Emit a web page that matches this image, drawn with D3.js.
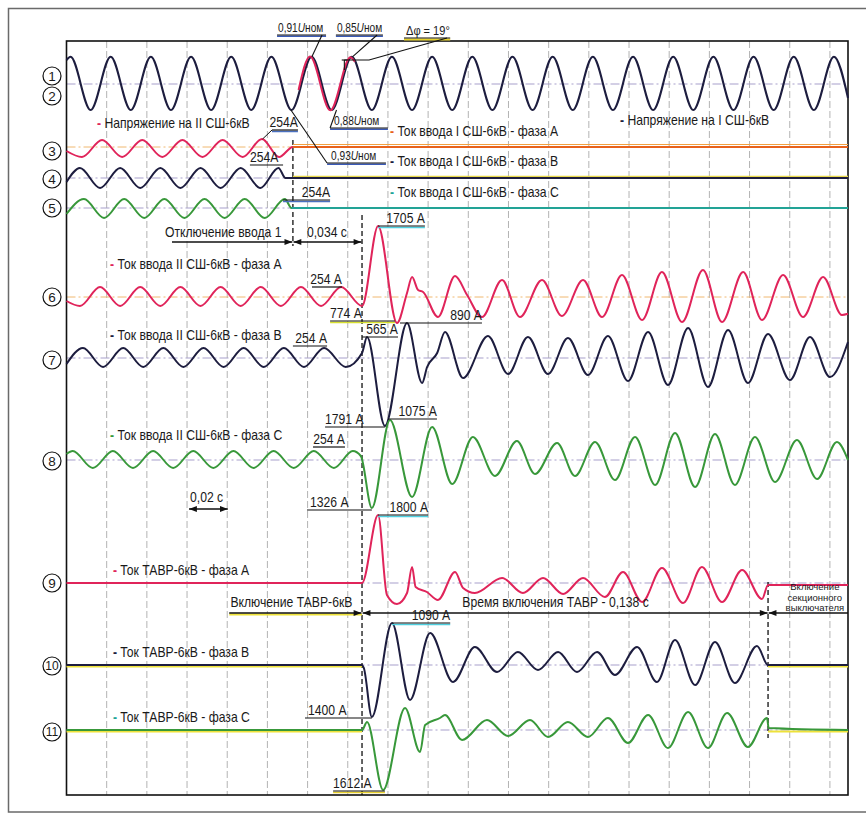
<!DOCTYPE html>
<html><head><meta charset="utf-8">
<script src="https://cdn.jsdelivr.net/npm/d3@7"></script>
<style>
body{margin:0;background:#fff}
text{font-family:"Liberation Sans",Arial,sans-serif;font-size:14.5px;fill:#1a1a1a}
</style>
</head><body>
<svg id="c" width="866" height="814"></svg>
<script>
// ---------------- DATA (time in ms, deflection in A-equivalent) ----------------
const timeDomain = [0, 389];
const gridTimes = d3.range(20, 389, 20);
const eventTimes = [112.7, 147.1, 349.2];
const traceNumbers = [1,2,3,4,5,6,7,8,9,10,11];

// 1 - Напряжение на I СШ-6кВ
const u1 = [[0,600],[2,680],[12,-650],[22,680],[32,-650],[42,680],[52,-650],[62,680],[72,-650],[82,680],[92,-650],[102,680],[112,-650],[122,680],[132,-650],[142,680],[152,-650],[162,680],[172,-650],[182,680],[192,-650],[202,680],[212,-650],[222,680],[232,-650],[242,680],[252,-650],[262,680],[272,-650],[282,680],[292,-650],[302,680],[312,-650],[322,680],[332,-650],[342,680],[352,-650],[362,680],[372,-650],[382,680],[389,-350]];
// 2 - Напряжение на II СШ-6кВ
const u2 = [[115.5,-150],[121.2,690],[131.3,-660],[141.3,670],[143.5,560]];
// 3..5 - Ток ввода I СШ-6кВ A,B,C
const inIA = [[0,-100],[7.7,-250],[17.7,175],[27.7,-250],[37.7,175],[47.7,-250],[57.7,175],[67.7,-250],[77.7,175],[87.7,-250],[97.3,200],[105.8,-250],[112.7,0],[389,0]];
const inIB = [[0,-100],[6.7,250],[16.7,-250],[26.7,250],[36.7,-250],[46.7,250],[56.7,-250],[66.7,250],[76.7,-250],[86.7,250],[96.5,-250],[105.5,250],[109,0],[389,0]];
const inIC = [[0,-150],[8.7,225],[18.7,-250],[28.7,225],[38.7,-250],[48.7,225],[58.7,-250],[68.7,225],[78.7,-250],[88.7,225],[98.7,-250],[108.7,225],[112,0],[389,0]];
// 6..8 - Ток ввода II СШ-6кВ A,B,C
const inIIA = [[0,-100],[6.7,-225],[16.7,250],[26.7,-225],[36.7,250],[46.7,-225],[56.7,250],[66.7,-225],[76.7,250],[86.7,-225],[96.7,250],[106.7,-225],[116.7,250],[126.7,-225],[136.7,250],[147.1,-225],[155.1,1775],[164.5,-650],[169.5,100],[172,500],[175,175],[177.5,125],[184.9,-500],[193.4,525],[199.4,50],[206.8,-500],[216.8,425],[225.7,-500],[236.7,425],[246.6,-475],[257.1,425],[266.6,-500],[276.5,550],[286.5,-575],[296.4,625],[306.4,-625],[316.8,675],[326.3,-625],[336.8,625],[346.2,-575],[356.7,550],[366.6,-500],[376.6,500],[386,-450],[389,-420]];
const inIIB = [[0,-150],[8.2,250],[18.2,-225],[28.2,250],[38.2,-225],[48.2,250],[58.2,-225],[68.2,250],[78.2,-225],[88.2,250],[98.2,-225],[108.2,250],[118.2,-225],[128.2,250],[139,-225],[147.1,125],[149.6,525],[158.5,-1700],[169.5,875],[177,-625],[179.5,-225],[184.5,125],[188.4,650],[197.4,-500],[209.8,550],[219.8,-400],[229.7,525],[239.7,-400],[249.6,500],[259.6,-425],[269.5,550],[279.5,-575],[289.5,650],[299.4,-675],[309.4,750],[319.3,-725],[329.3,700],[339.2,-625],[349.2,600],[360.1,-550],[370.1,525],[380,-475],[389,400]];
const inIIC = [[0,150],[3.1,225],[13.1,-200],[23.1,225],[33.1,-200],[43.1,225],[53.1,-200],[63.1,225],[73.1,-200],[83.1,225],[93.1,-200],[103.1,225],[113.1,-200],[123.1,225],[133.1,-200],[142.5,225],[146.5,100],[152,-1200],[161,1000],[172,-925],[182,825],[192,-600],[202.3,575],[213.3,-400],[224.2,475],[233.2,-350],[244.2,425],[253.1,-400],[263.1,450],[273,-500],[283,575],[293,-625],[302.9,675],[312.9,-675],[322.8,650],[332.7,-625],[342.7,575],[352.7,-550],[363.6,500],[373.6,-475],[383.5,450],[389,0]];
// 9..11 - Ток ТАВР-6кВ A,B,C
const tavrA = [[0,0],[147.1,0],[155.1,1700],[159.5,-300],[164.5,-525],[169.5,-250],[172,400],[173.8,-100],[179.4,-225],[184.9,-425],[193.4,275],[197.4,-125],[203.3,-250],[216.8,125],[227.2,-250],[237.2,125],[247.2,-275],[257.1,125],[268,-350],[277,275],[286.5,-475],[296.4,375],[306.9,-500],[316.3,400],[326.3,-475],[336.3,325],[346.2,-400],[349.2,-50],[350.5,-50],[389,-50]];
const tavrB = [[0,0],[147.1,0],[148,-75],[152,-1300],[162,1050],[171,-875],[181,800],[192.4,-425],[203.3,450],[214.3,-175],[224.7,325],[234.7,-125],[244.7,325],[254.1,-175],[264.1,325],[273,-250],[284,450],[293.9,-425],[302.9,625],[312.9,-500],[322.8,575],[332.7,-450],[343.7,475],[349.2,0],[389,0]];
const tavrC = [[0,0],[147.1,0],[149.6,200],[157.6,-1500],[168.5,550],[176,-550],[178.5,125],[185.9,300],[188.4,375],[196.9,-250],[209.3,250],[219.8,-150],[230.7,250],[239.7,-175],[249.6,200],[259.6,-175],[269.5,300],[279.5,-325],[289.5,375],[299.4,-450],[309.4,450],[319.3,-450],[328.8,425],[339.2,-425],[348.7,300],[349.5,50],[389,0]];

const seriesLabels = [
  "Напряжение на II СШ-6кВ","Напряжение на I СШ-6кВ",
  "Ток ввода I СШ-6кВ - фаза А","Ток ввода I СШ-6кВ - фаза В","Ток ввода I СШ-6кВ - фаза С",
  "Ток ввода II СШ-6кВ - фаза А","Ток ввода II СШ-6кВ - фаза В","Ток ввода II СШ-6кВ - фаза С",
  "Ток ТАВР-6кВ - фаза А","Ток ТАВР-6кВ - фаза В","Ток ТАВР-6кВ - фаза С"];
const valueLabels = ["1705 А","774 А","565 А","890 А","1791 А","1075 А","1326 А","254 А","254 А","254 А","1800 А","1090 А","1400 А","1612 А","254А","254А","254А"];
const voltLabels = ["0,91","0,85","0,88","0,93"];
const phaseShift = "Δφ = 19°";
const timeLabels = ["Отключение ввода 1","0,034 с","0,02 с","Включение ТАВР-6кВ","Время включения ТАВР - 0,138 с"];
const sectionLabel = ["Включение","секционного","выключателя"];

// ---------------- LAYOUT ----------------
const svg = d3.select('#c');
const x = d3.scaleLinear().domain(timeDomain).range([66.5, 848]);
const defl = d3.scaleLinear().domain([-1000, 1000]).range([40, -40]);
const laneY = {1:84,2:84,3:147,4:178,5:208,6:297,7:358,8:460,9:583,10:665,11:730};
const circleY = {1:76,2:96,3:151,4:179,5:208,6:297,7:360,8:461,9:583,10:666,11:732};
const Y = (lane, v) => laneY[lane] + defl(v);
const RED = "#e0245a", NAVY = "#1d1d3f", GREEN = "#38983a", TEAL = "#22a396", ORANGE = "#e8621c";

// condensed text: horizontal scale via transform
function label(px, py, k, anchor){
  return svg.append('text').attr('transform',`translate(${px},${py}) scale(${k},1)`)
    .attr('text-anchor', anchor || 'start');
}

const defs = svg.append('defs');
defs.append('marker').attr('id','arr').attr('viewBox','0 0 10 10').attr('refX',10).attr('refY',5)
  .attr('markerWidth',8).attr('markerHeight',6).attr('orient','auto-start-reverse')
  .append('path').attr('d','M0,1 L10,5 L0,9 Z').attr('fill','#111');

// outer frame
svg.append('rect').attr('x',8.5).attr('y',8.5).attr('width',900).attr('height',803.5)
  .attr('fill','none').attr('stroke','#6a6a6a').attr('stroke-width',1.5);

// grid
svg.append('g').selectAll('line').data(gridTimes).join('line')
  .attr('x1',d=>x(d)).attr('x2',d=>x(d)).attr('y1',41).attr('y2',795)
  .attr('stroke','#b3b3b3').attr('stroke-width',1).attr('stroke-dasharray','7,3');

// baselines
const baseLanes = [1,3,4,5,6,7,8,9,10,11];
svg.append('g').selectAll('line').data(baseLanes).join('line')
  .attr('x1',x(0)).attr('x2',x(389)).attr('y1',d=>Y(d,0)).attr('y2',d=>Y(d,0))
  .attr('stroke',d=> d===6||d===3 ? '#f0b870' : '#a79fcb').attr('stroke-width',1)
  .attr('stroke-dasharray','9,3,2,3');

// plot frame
svg.append('rect').attr('x',66.5).attr('y',41).attr('width',781.5).attr('height',754)
  .attr('fill','none').attr('stroke','#111').attr('stroke-width',1.6);

// event dashed lines
const evSpans = [[eventTimes[0],140,246],[eventTimes[1],215,795],[eventTimes[2],582,738]];
svg.append('g').selectAll('line').data(evSpans).join('line')
  .attr('x1',d=>x(d[0])).attr('x2',d=>x(d[0])).attr('y1',d=>d[1]).attr('y2',d=>d[2])
  .attr('stroke','#111').attr('stroke-width',1.3).attr('stroke-dasharray','5,3');

// traces
function trace(data, lane, color, w){
  const line = d3.line().x(d=>x(d[0])).y(d=>Y(lane,d[1])).curve(d3.curveMonotoneX);
  svg.append('path').attr('d',line(data)).attr('fill','none').attr('stroke',color)
    .attr('stroke-width',w||2).attr('stroke-linejoin','round');
}
function flat(t0, t1, lane, v, color, w, dy){
  svg.append('line').attr('x1',x(t0)).attr('x2',x(t1)).attr('y1',Y(lane,v)+(dy||0)).attr('y2',Y(lane,v)+(dy||0))
    .attr('stroke',color).attr('stroke-width',w||2);
}
flat(0,147.1,10,0,'#eee23a',2,1.5);
flat(0,147.1,11,0,'#eee23a',2,1.5);
flat(349.2,389,10,0,'#eee23a',2,1.5);
flat(349.2,389,11,0,'#eee23a',2,1.5);
flat(112.7,389,4,0,'#e8d84a',1.5,-1.5);
flat(112.7,389,3,0,'#f2a040',1.2,-2.5);

trace(u1,1,NAVY,2.1);
trace(u2,2,RED,1.9);
trace(inIA,3,RED,2);
flat(112.7,389,3,0,ORANGE,2);
trace(inIB,4,NAVY,2);
trace(inIC,5,GREEN,2);
flat(112,389,5,0,TEAL,2.2);
trace(inIIA,6,RED,2);
trace(inIIB,7,NAVY,2);
trace(inIIC,8,GREEN,2);
trace(tavrA,9,RED,2);
trace(tavrB,10,NAVY,2);
trace(tavrC,11,GREEN,2);

// circled numbers
const cg = svg.append('g').selectAll('g').data(traceNumbers).join('g')
  .attr('transform',d=>`translate(52,${circleY[d]})`);
cg.append('circle').attr('r',9).attr('fill','#fff').attr('stroke','#111').attr('stroke-width',1.2);
cg.append('text').attr('text-anchor','middle').attr('dy','0.36em').style('font-size',d=>d>9?'12px':'13.5px').text(d=>d);

// series labels
const sl = [
  {i:0,t:15.2,lane:1,v:-1100,c:RED},{i:1,t:275.5,lane:1,v:-1025,c:NAVY},
  {i:2,t:161,lane:3,v:275,c:ORANGE},{i:3,t:161,lane:4,v:300,c:NAVY},{i:4,t:161,lane:5,v:275,c:TEAL},
  {i:5,t:21.7,lane:6,v:700,c:RED},{i:6,t:21.7,lane:7,v:450,c:NAVY},{i:7,t:21.7,lane:8,v:500,c:GREEN},
  {i:8,t:23.1,lane:9,v:200,c:RED},{i:9,t:23.1,lane:10,v:200,c:NAVY},{i:10,t:23.1,lane:11,v:200,c:TEAL}];
sl.forEach(d=>{
  const t = label(x(d.t), Y(d.lane,d.v), 0.84);
  t.append('tspan').style('fill',d.c).style('font-weight','bold').text('- ');
  t.append('tspan').text(seriesLabels[d.i]);
});

// value annotations (underlined)
const ann = [
  {i:0,lane:6,v:1775,t0:155.1,t1:178.4,a:'end',tint:'#4fd0e0'},
  {i:1,lane:6,v:-600,t0:131.2,t1:163.5,a:'start',tint:'#d8e030'},
  {i:2,lane:7,v:525,t0:147.1,t1:165,a:'end'},
  {i:3,lane:7,v:875,t0:166,t1:206.8,a:'end'},
  {i:4,lane:7,v:-1725,t0:128.7,t1:158.5,a:'start'},
  {i:5,lane:8,v:1025,t0:160,t1:184.4,a:'end'},
  {i:6,lane:8,v:-1250,t0:119.7,t1:152,a:'start'},
  {i:7,lane:6,v:250,t0:122.2,t1:137.1,a:'end'},
  {i:8,lane:7,v:300,t0:112.7,t1:129.7,a:'end'},
  {i:9,lane:8,v:325,t0:122.7,t1:138.6,a:'end'},
  {i:10,lane:9,v:1700,t0:155.1,t1:180,a:'end',tint:'#4fd0e0'},
  {i:11,lane:10,v:1050,t0:162,t1:191,a:'end',tint:'#4fd0e0'},
  {i:12,lane:10,v:-1325,t0:118.7,t1:152,a:'start'},
  {i:13,lane:11,v:-1525,t0:132.7,t1:158.5,a:'start',tint:'#e8d030'},
  {i:14,lane:3,v:425,t0:102.3,t1:115.2,a:'end',tint:'#4a70c0'},
  {i:15,lane:4,v:325,t0:91.3,t1:107.8,a:'start'},
  {i:16,lane:5,v:200,t0:107.8,t1:131.2,a:'end',tint:'#4a70c0'}];
ann.forEach(d=>{
  const yy = Y(d.lane,d.v);
  if(d.tint) svg.append('line').attr('x1',x(d.t0)).attr('x2',x(d.t1)).attr('y1',yy+1.5).attr('y2',yy+1.5)
    .attr('stroke',d.tint).attr('stroke-width',1.5);
  svg.append('line').attr('x1',x(d.t0)).attr('x2',x(d.t1)).attr('y1',yy).attr('y2',yy)
    .attr('stroke','#111').attr('stroke-width',1.2);
  label(d.a==='end'? x(d.t1) : x(d.t0)+(d.i===6||d.i===12?3:0), yy-3, 0.84, d.a).text(valueLabels[d.i]);
});
svg.append('line').attr('x1',x(97.6)).attr('y1',Y(3,200)).attr('x2',x(102.3)).attr('y2',Y(3,425)).attr('stroke','#111').attr('stroke-width',1);

// voltage annotations
function leader(pts, color){
  svg.append('path').attr('d',d3.line().x(p=>x(p[0])).y(p=>Y(1,p[1]))(pts))
    .attr('fill','none').attr('stroke',color||'#111').attr('stroke-width',1.1);
}
const volt = [
  {i:0,t0:104.8,t1:129.2,v:1225,lead:[[127.2,1225],[122.2,690]],tint:'#3a5ab8'},
  {i:1,t0:134.1,t1:157.5,v:1225,lead:[[154.6,1225],[142.6,690]],tint:'#3a5ab8'},
  {i:2,t0:131.2,t1:160,v:-1100,lead:[[131.2,-1100],[134.4,-650]],tint:'#3a5ab8'},
  {i:3,t0:129.7,t1:159,v:-1975,lead:[[129.7,-1975],[111.7,-650]],tint:'#3a5ab8'}];
volt.forEach(d=>{
  const yy = Y(1,d.v);
  svg.append('line').attr('x1',x(d.t0)).attr('x2',x(d.t1)).attr('y1',yy+1.3).attr('y2',yy+1.3).attr('stroke',d.tint).attr('stroke-width',1.4);
  svg.append('line').attr('x1',x(d.t0)).attr('x2',x(d.t1)).attr('y1',yy).attr('y2',yy).attr('stroke','#111').attr('stroke-width',1);
  const t = label(x(d.t0)+(d.i>=2?4:1), yy-3, 0.78).style('font-size','13px');
  t.append('tspan').text(voltLabels[d.i]);
  t.append('tspan').style('font-style','italic').text('U');
  t.append('tspan').text('ном');
  leader(d.lead);
});
{
  const yy = Y(1,1150);
  svg.append('line').attr('x1',x(168)).attr('x2',x(191)).attr('y1',yy+1.5).attr('y2',yy+1.5).attr('stroke','#e6d22a').attr('stroke-width',2);
  svg.append('line').attr('x1',x(168)).attr('x2',x(191)).attr('y1',yy).attr('y2',yy).attr('stroke','#111').attr('stroke-width',1);
  label(x(169), yy-3, 0.85).style('font-size','13px').text(phaseShift);
  leader([[189.4,1150],[150.6,600],[138.3,600]]);
  leader([[138.3,600],[138.3,350]]);
  leader([[137,600],[139.6,600]]);
}

// time arrows
function arrow(t0,t1,yy,startHead,endHead,color){
  const l = svg.append('line').attr('x1',x(t0)).attr('x2',x(t1)).attr('y1',yy).attr('y2',yy)
    .attr('stroke',color||'#111').attr('stroke-width',1.3);
  if(startHead) l.attr('marker-start','url(#arr)');
  if(endHead) l.attr('marker-end','url(#arr)');
}
const yOff = Y(6,1375);
arrow(52.5,112.4,yOff,false,true);
arrow(113.0,146.8,yOff,true,true);
label(x(49), yOff-5, 0.84).text(timeLabels[0]);
label(x(119.7), yOff-5, 0.84).text(timeLabels[1]);
const y02 = Y(8,-1225);
arrow(61,80.3,y02,true,true);
label(x(61.5), y02-7, 0.84).text(timeLabels[2]);
const yTv = Y(9,-750);
svg.append('line').attr('x1',x(81)).attr('x2',x(147.1)).attr('y1',yTv+1.5).attr('y2',yTv+1.5).attr('stroke','#eee23a').attr('stroke-width',2);
arrow(81,146.8,yTv,false,true);
arrow(147.4,349,yTv,true,true);
arrow(389,349.5,yTv,false,true);
label(x(81.6), yTv-6, 0.84).text(timeLabels[3]);
label(x(197), yTv-6, 0.84).text(timeLabels[4]);
svg.append('g').selectAll('text').data(sectionLabel).join('text')
  .attr('x',x(372.5)).attr('y',(d,i)=>Y(9,-175)+i*10.5).attr('text-anchor','middle')
  .style('font-size','9.5px').text(d=>d);
</script>
</body></html>
